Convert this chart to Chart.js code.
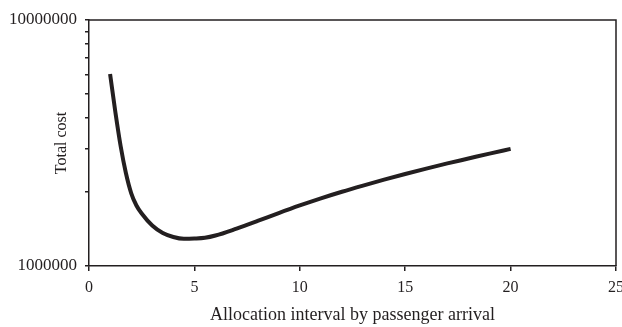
<!DOCTYPE html>
<html>
<head>
<meta charset="utf-8">
<script src="https://cdn.jsdelivr.net/npm/chart.js@4/dist/chart.umd.min.js"></script>
<style>
  html, body { margin: 0; padding: 0; background: #fff; }
  #wrap { width: 622px; height: 327px; }
</style>
</head>
<body>
<div id="wrap"><canvas id="costChart"></canvas></div>
<script>
// allocation interval (x) and total cost (y)
const intervals = [1, 1.25, 1.5, 1.75, 2, 2.25, 2.5, 3, 3.5, 4, 4.5, 5, 5.5, 6,
  7, 8, 9, 10, 11, 12, 13, 14, 15, 16, 17, 18, 19, 20];
const totalCost = [6034000, 4227000, 3075000, 2388000, 1980000, 1762000, 1635000, 1461000, 1362000, 1312000,
  1290000, 1293000, 1302000, 1330000, 1419000, 1524000, 1641000, 1762000, 1884000, 2004000,
  2123000, 2244000, 2366000, 2489000, 2612000, 2735000, 2864000, 2992000];
const yTicks = [1e6, 2e6, 3e6, 4e6, 5e6, 6e6, 7e6, 8e6, 9e6, 1e7];

const INK = "#231f20";
const FONT = "'Liberation Serif', 'Times New Roman', serif";

// top + right border of the plot box
const boxBorder = {
  id: "boxBorder",
  afterDraw(chart) {
    const { ctx, chartArea: a } = chart;
    ctx.save();
    ctx.strokeStyle = INK;
    ctx.lineWidth = 1.5;
    ctx.beginPath();
    ctx.moveTo(a.left, a.top);
    ctx.lineTo(a.right, a.top);
    ctx.lineTo(a.right, a.bottom);
    ctx.stroke();
    ctx.restore();
  },
};

new Chart(document.getElementById("costChart"), {
  type: "line",
  data: {
    datasets: [{
      data: intervals.map((x, i) => ({ x, y: totalCost[i] })),
      borderColor: INK,
      borderWidth: 4,
      pointRadius: 0,
      cubicInterpolationMode: "monotone",
      fill: false,
    }],
  },
  options: {
    responsive: true,
    maintainAspectRatio: false,
    animation: false,
    layout: { padding: { top: 20, right: 6, left: 0, bottom: 0 } },
    plugins: { legend: { display: false }, tooltip: { enabled: false } },
    scales: {
      x: {
        type: "linear",
        min: 0,
        max: 25,
        ticks: { stepSize: 5, color: INK, font: { family: FONT, size: 16 }, padding: 7, maxRotation: 0 },
        grid: { drawOnChartArea: false, drawTicks: true, tickLength: 5, color: INK, lineWidth: 1.5 },
        border: { color: INK, width: 1.5 },
        title: {
          display: true,
          text: "Allocation interval by passenger arrival",
          color: INK,
          font: { family: FONT, size: 18 },
          padding: { top: 0, bottom: 1 },
        },
        afterFit(s) { s.height = 61; s.paddingLeft = 0; s.paddingRight = 0; },
      },
      y: {
        type: "logarithmic",
        min: 1e6,
        max: 1e7,
        afterBuildTicks(s) { s.ticks = yTicks.map((v) => ({ value: v })); },
        ticks: {
          color: INK,
          font: { family: FONT, size: 17 },
          padding: 8,
          autoSkip: false,
          callback: (v) => (Math.log10(v) % 1 === 0 ? String(v) : ""),
        },
        grid: { drawOnChartArea: false, drawTicks: true, tickLength: 4, color: INK, lineWidth: 1.5 },
        border: { color: INK, width: 1.5 },
        title: {
          display: true,
          text: "Total cost",
          color: INK,
          font: { family: FONT, size: 16 },
          padding: { top: 52, bottom: 0 },
        },
        afterFit(s) { s.width = 89; s.paddingTop = 0; s.paddingBottom = 0; },
      },
    },
  },
  plugins: [boxBorder],
});
</script>
</body>
</html>
